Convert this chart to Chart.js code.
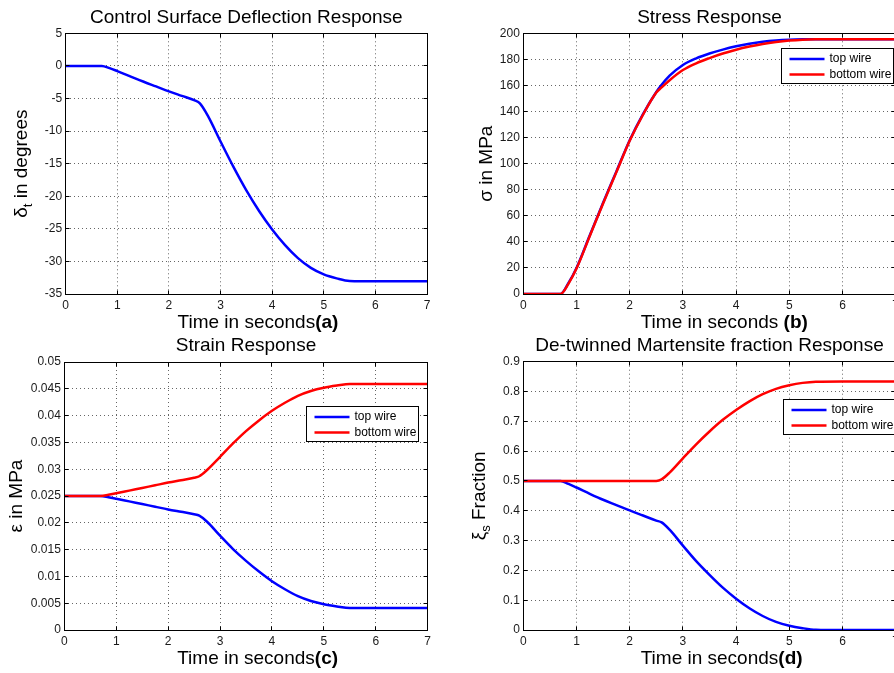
<!DOCTYPE html>
<html>
<head>
<meta charset="utf-8">
<script src="https://cdn.jsdelivr.net/npm/chart.js@4.4.0/dist/chart.umd.min.js"></script>
<style>
    html, body { margin: 0; padding: 0; background: #fff; overflow: hidden; }
    body { width: 894px; height: 673px; position: relative; }
    canvas { position: absolute; }
</style>
</head>
<body>
<canvas id="chartA" width="440" height="335" style="left:0;top:0"></canvas>
<canvas id="chartB" width="470" height="335" style="left:440px;top:0"></canvas>
<canvas id="chartC" width="440" height="338" style="left:0;top:335px"></canvas>
<canvas id="chartD" width="470" height="338" style="left:440px;top:335px"></canvas>
<script>
// values (time in seconds)
const time = [0, 0.7, 0.85, 1, 1.25, 1.5, 1.75, 2, 2.25, 2.5, 2.6, 2.75, 3, 3.25, 3.5, 3.75, 4, 4.25, 4.5, 4.75, 5, 5.25, 5.5, 6, 7];

const deflection = [0, 0, -0.35, -0.8, -1.6, -2.4, -3.15, -3.9, -4.6, -5.3, -5.75, -7.6, -11.6, -15.5, -19.1, -22.3, -25.1, -27.5, -29.5, -31.0, -32.0, -32.6, -33.0, -33.05, -33.05];

const stressTop = [0, 0, 8.5, 20, 45, 70, 94, 118, 138, 155, 160.5, 167.5, 175.7, 180.8, 184.5, 187.5, 190, 192, 193.5, 194.5, 195.1, 195.4, 195.5, 195.5, 195.5];
const stressBottom = [0, 0, 8, 19.5, 44.5, 69.5, 93.5, 117.5, 137.5, 154.5, 158.5, 164, 171.8, 177, 181, 184.5, 187.4, 189.8, 191.8, 193.3, 194.4, 195.1, 195.4, 195.5, 195.5];

const strainTop = [0.025, 0.025, 0.02478, 0.0245, 0.024, 0.0235, 0.023, 0.0225, 0.02205, 0.0216, 0.02132, 0.0202, 0.0176, 0.0151, 0.0129, 0.0109, 0.0091, 0.0076, 0.0063, 0.0054, 0.0048, 0.0044, 0.0041, 0.0041, 0.0041];
const strainBottom = [0.025, 0.025, 0.02522, 0.0255, 0.026, 0.0265, 0.027, 0.0275, 0.02795, 0.0284, 0.02868, 0.02985, 0.0323, 0.0348, 0.0371, 0.0391, 0.0409, 0.0424, 0.0437, 0.0446, 0.0452, 0.0456, 0.0459, 0.0459, 0.0459];

const fractionTop = [0.5, 0.5, 0.49, 0.478, 0.457, 0.437, 0.419, 0.401, 0.384, 0.367, 0.361, 0.3365, 0.283, 0.231, 0.185, 0.142, 0.105, 0.073, 0.047, 0.027, 0.014, 0.006, 0.001, 0, 0];
const fractionBottom = [0.5, 0.5, 0.5, 0.5, 0.5, 0.5, 0.5, 0.5, 0.5, 0.5, 0.5054, 0.528, 0.576, 0.623, 0.666, 0.705, 0.738, 0.767, 0.791, 0.809, 0.821, 0.829, 0.833, 0.834, 0.834];

const wireLabels = ['top wire', 'bottom wire'];

const timeTicks = [0, 1, 2, 3, 4, 5, 6, 7];
const deflectionTicks = [-35, -30, -25, -20, -15, -10, -5, 0, 5];
const stressTicks = [0, 20, 40, 60, 80, 100, 120, 140, 160, 180, 200];
const strainTicks = [0, 0.005, 0.01, 0.015, 0.02, 0.025, 0.03, 0.035, 0.04, 0.045, 0.05];
const fractionTicks = [0, 0.1, 0.2, 0.3, 0.4, 0.5, 0.6, 0.7, 0.8, 0.9];

const FONT = '"Liberation Sans", Arial, Helvetica, sans-serif';

function points(values) {
    return time.map((t, i) => ({ x: t, y: values[i] }));
}

function fmt(v) {
    return String(Math.round(v * 1e6) / 1e6);
}

// matlab style box, inward ticks, titles, labels and the legend
const matlabLook = {
    id: 'matlabLook',
    afterDraw(chart, args, opts) {
        const ctx = chart.ctx;
        const area = chart.chartArea;
        const al = p => Math.round(p - 0.5) + 0.5;
        const l = al(area.left), r = al(area.right), t = al(area.top), b = al(area.bottom);
        ctx.save();
        ctx.setLineDash([]);
        ctx.strokeStyle = '#000';
        ctx.lineWidth = 1;
        ctx.strokeRect(l, t, r - l, b - t);

        ctx.beginPath();
        const xs = chart.scales.x, ys = chart.scales.y;
        xs.ticks.forEach(tk => {
            const px = al(xs.getPixelForValue(tk.value));
            ctx.moveTo(px, b); ctx.lineTo(px, b - 4);
            ctx.moveTo(px, t); ctx.lineTo(px, t + 4);
        });
        ys.ticks.forEach(tk => {
            const py = al(ys.getPixelForValue(tk.value));
            ctx.moveTo(l, py); ctx.lineTo(l + 4, py);
            ctx.moveTo(r, py); ctx.lineTo(r - 4, py);
        });
        ctx.stroke();

        const cx = (area.left + area.right) / 2;
        const cy = (area.top + area.bottom) / 2;
        ctx.fillStyle = '#000';
        ctx.textBaseline = 'alphabetic';

        // title
        ctx.font = '19px ' + FONT;
        ctx.textAlign = 'center';
        ctx.fillText(opts.title, cx, area.top - 10.8);

        // x label: plain part centred, bold part appended
        ctx.textAlign = 'left';
        ctx.font = '19px ' + FONT;
        const w = ctx.measureText(opts.xLabel).width;
        const xl = cx - w / 2;
        ctx.fillText(opts.xLabel, xl, area.bottom + 34.3);
        ctx.font = 'bold 19px ' + FONT;
        ctx.fillText(opts.xTag, xl + w, area.bottom + 34.3);

        // y label with subscripts
        ctx.save();
        ctx.translate(area.left + opts.yLabelX, cy);
        ctx.rotate(-Math.PI / 2);
        let total = 0;
        opts.yLabel.forEach(seg => {
            ctx.font = (seg.sub ? '13px ' : '19px ') + FONT;
            seg.w = ctx.measureText(seg.text).width;
            total += seg.w;
        });
        let pos = -total / 2;
        opts.yLabel.forEach(seg => {
            ctx.font = (seg.sub ? '13px ' : '19px ') + FONT;
            ctx.fillText(seg.text, pos, seg.sub ? 5 : 0);
            pos += seg.w;
        });
        ctx.restore();

        // legend
        if (opts.legend) {
            const bx = al(area.left + opts.legend.x), by = al(area.top + opts.legend.y);
            ctx.fillStyle = '#fff';
            ctx.fillRect(bx, by, 112, 35);
            ctx.strokeStyle = '#000';
            ctx.lineWidth = 1;
            ctx.strokeRect(bx, by, 112, 35);
            ctx.font = '12px ' + FONT;
            ctx.textBaseline = 'middle';
            chart.data.datasets.forEach((ds, i) => {
                const ry = by + 10.5 + i * 15.5;
                ctx.strokeStyle = ds.borderColor;
                ctx.lineWidth = 2.5;
                ctx.beginPath();
                ctx.moveTo(bx + 8, ry);
                ctx.lineTo(bx + 43, ry);
                ctx.stroke();
                ctx.fillStyle = '#000';
                ctx.fillText(ds.label, bx + 48, ry);
            });
        }
        ctx.restore();
    }
};

function line(label, values, color, order) {
    return {
        label: label,
        data: points(values),
        borderColor: color,
        backgroundColor: color,
        borderWidth: 2.5,
        pointRadius: 0,
        cubicInterpolationMode: 'monotone',
        order: order
    };
}

function makeChart(id, datasets, yTicks, padding, look) {
    return new Chart(document.getElementById(id).getContext('2d'), {
        type: 'line',
        data: { datasets: datasets },
        plugins: [matlabLook],
        options: {
            responsive: false,
            animation: false,
            events: [],
            layout: { padding: padding },
            scales: {
                x: {
                    type: 'linear',
                    min: timeTicks[0],
                    max: timeTicks[timeTicks.length - 1],
                    ticks: {
                        stepSize: timeTicks[1] - timeTicks[0],
                        padding: 4,
                        color: '#1a1a1a',
                        font: { family: FONT, size: 12 },
                        maxRotation: 0,
                        callback: fmt
                    },
                    grid: { color: '#666', lineWidth: 1, drawTicks: false },
                    border: { display: false, dash: [1, 3] },
                    afterFit: s => { s.height = 30; }
                },
                y: {
                    type: 'linear',
                    min: yTicks[0],
                    max: yTicks[yTicks.length - 1],
                    ticks: {
                        stepSize: yTicks[1] - yTicks[0],
                        padding: 3.5,
                        color: '#1a1a1a',
                        font: { family: FONT, size: 12 },
                        callback: fmt
                    },
                    grid: { color: '#666', lineWidth: 1, drawTicks: false },
                    border: { display: false, dash: [1, 3] },
                    afterFit: s => { s.width = 50; }
                }
            },
            plugins: {
                legend: { display: false },
                tooltip: { enabled: false },
                title: { display: false },
                matlabLook: look
            }
        }
    });
}

makeChart('chartA',
    [line('deflection', deflection, '#0000ff', 0)],
    deflectionTicks,
    { left: 15.7, top: 33.3, right: 13, bottom: 11 },
    {
        title: 'Control Surface Deflection Response',
        xLabel: 'Time in seconds', xTag: '(a)',
        yLabel: [{ text: 'δ' }, { text: 't', sub: true }, { text: ' in degrees' }],
        yLabelX: -38.4
    });

makeChart('chartB',
    [line(wireLabels[0], stressTop, '#0000ff', 1), line(wireLabels[1], stressBottom, '#ff0000', 0)],
    stressTicks,
    { left: 33.3, top: 33.3, right: 14.3, bottom: 11 },
    {
        title: 'Stress Response',
        xLabel: 'Time in seconds', xTag: ' (b)',
        yLabel: [{ text: 'σ in MPa' }],
        yLabelX: -31.6,
        legend: { x: 257.7, y: 15.5 }
    });

makeChart('chartC',
    [line(wireLabels[0], strainTop, '#0000ff', 1), line(wireLabels[1], strainBottom, '#ff0000', 0)],
    strainTicks,
    { left: 14.3, top: 27, right: 12.3, bottom: 13 },
    {
        title: 'Strain Response',
        xLabel: 'Time in seconds', xTag: '(c)',
        yLabel: [{ text: 'ε in MPa' }],
        yLabelX: -42.6,
        legend: { x: 241.7, y: 44 }
    });

makeChart('chartD',
    [line(wireLabels[0], fractionTop, '#0000ff', 1), line(wireLabels[1], fractionBottom, '#ff0000', 0)],
    fractionTicks,
    { left: 33.3, top: 26.7, right: 14.3, bottom: 13 },
    {
        title: 'De-twinned Martensite fraction Response',
        xLabel: 'Time in seconds', xTag: '(d)',
        yLabel: [{ text: 'ξ' }, { text: 's', sub: true }, { text: ' Fraction' }],
        yLabelX: -38.3,
        legend: { x: 259.7, y: 37.3 }
    });
</script>
</body>
</html>
